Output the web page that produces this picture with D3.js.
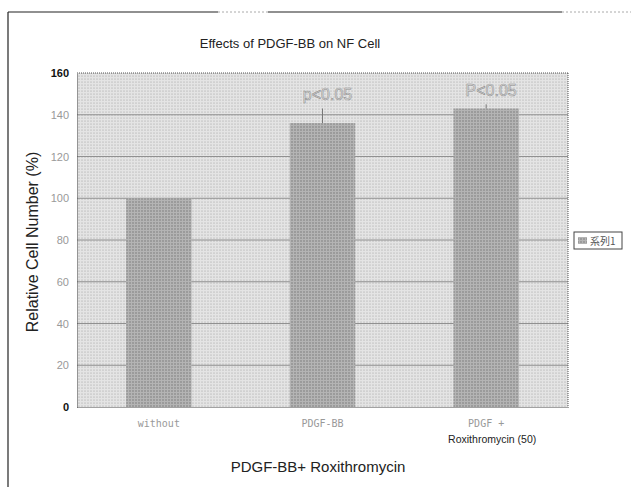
<!DOCTYPE html>
<html>
<head>
<meta charset="utf-8">
<script src="https://cdn.jsdelivr.net/npm/d3@7"></script>
<style>
  html, body { margin: 0; padding: 0; background: #fff; }
  svg { display: block; }
</style>
</head>
<body>
<svg id="chart" width="631" height="487"></svg>
<script>
// Relative cell number for each treatment group
const categories = ["without", "PDGF-BB", "PDGF +|Roxithromycin (50)"];
const values = [100, 136, 143];
const errors = [0, 7, 2];
const notes = ["", "p<0.05", "P<0.05"];
const yTicks = [0, 20, 40, 60, 80, 100, 120, 140, 160];
const seriesName = "系列1";

const svg = d3.select("#chart");
const margin = { left: 77, right: 63, top: 73, bottom: 80 };
const W = 631, H = 487;
const plotL = margin.left, plotR = W - margin.right;
const plotT = margin.top, plotB = H - margin.bottom;

const x = d3.scaleBand().domain(categories).range([plotL, plotR])
  .paddingInner(0.6).paddingOuter(0.3);
const y = d3.scaleLinear().domain([0, 160]).range([plotB, plotT]);

// halftone-like dot patterns
const defs = svg.append("defs");
function dots(id, bg, fg, r) {
  const p = defs.append("pattern").attr("id", id)
    .attr("width", 3).attr("height", 3).attr("patternUnits", "userSpaceOnUse");
  p.append("rect").attr("width", 3).attr("height", 3).attr("fill", bg);
  p.append("circle").attr("cx", 1).attr("cy", 1).attr("r", r).attr("fill", fg);
}
dots("plotTex", "#e4e4e4", "#9a9a9a", 0.55);
dots("barTex", "#b4b4b4", "#6e6e6e", 0.7);

// outer frame
const frame = svg.append("g").attr("stroke", "#222").attr("stroke-width", 1.2);
frame.append("line").attr("x1", 8).attr("x2", 8).attr("y1", 12).attr("y2", H);
frame.append("line").attr("x1", 8).attr("x2", 218).attr("y1", 12).attr("y2", 12);
frame.append("line").attr("x1", 268).attr("x2", 562).attr("y1", 12).attr("y2", 12);
svg.append("line").attr("x1", 218).attr("x2", 268).attr("y1", 12).attr("y2", 12)
  .attr("stroke", "#aaa").attr("stroke-dasharray", "2,2");
svg.append("line").attr("x1", 562).attr("x2", 631).attr("y1", 12).attr("y2", 12)
  .attr("stroke", "#aaa").attr("stroke-dasharray", "2,2");

// title
svg.append("text").attr("x", 290).attr("y", 48).attr("text-anchor", "middle")
  .attr("font-family", "Liberation Sans, Arial, sans-serif").attr("font-size", 13)
  .attr("fill", "#222").text("Effects of PDGF-BB on NF Cell");

// plot background
svg.append("rect").attr("x", plotL).attr("y", plotT)
  .attr("width", plotR - plotL).attr("height", plotB - plotT)
  .attr("fill", "url(#plotTex)");

// gridlines
svg.append("g").selectAll("line").data(yTicks.filter(d => d > 0 && d < 160)).join("line")
  .attr("x1", plotL).attr("x2", plotR)
  .attr("y1", d => y(d)).attr("y2", d => y(d))
  .attr("stroke", "#909090").attr("stroke-width", 1);

// plot border
svg.append("line").attr("x1", plotL).attr("x2", plotR).attr("y1", plotT).attr("y2", plotT)
  .attr("stroke", "#555").attr("stroke-dasharray", "1,1");
svg.append("line").attr("x1", plotR).attr("x2", plotR).attr("y1", plotT).attr("y2", plotB)
  .attr("stroke", "#555").attr("stroke-dasharray", "1,1");

// bars
svg.append("g").selectAll("rect").data(categories).join("rect")
  .attr("x", d => x(d)).attr("width", x.bandwidth())
  .attr("y", (d, i) => y(values[i])).attr("height", (d, i) => y(0) - y(values[i]))
  .attr("fill", "url(#barTex)");

// error ticks
const withErr = categories.map((c, i) => ({ c, v: values[i], e: errors[i] })).filter(d => d.e > 0);
svg.append("g").selectAll("line").data(withErr).join("line")
  .attr("x1", d => x(d.c) + x.bandwidth() / 2).attr("x2", d => x(d.c) + x.bandwidth() / 2)
  .attr("y1", d => y(d.v)).attr("y2", d => y(d.v + d.e))
  .attr("stroke", "#777").attr("stroke-width", 1);

// significance notes
svg.append("g").selectAll("text").data(categories).join("text")
  .attr("x", d => x(d) + x.bandwidth() / 2 + 5)
  .attr("y", (d, i) => y(values[i] + errors[i]) - 8)
  .attr("text-anchor", "middle")
  .attr("font-family", "Liberation Sans, Arial, sans-serif").attr("font-size", 16)
  .attr("fill", "#dcdcdc").attr("stroke", "#8c8c8c").attr("stroke-width", 0.5)
  .text((d, i) => notes[i]);

// y axis
const yAxis = svg.append("g").attr("transform", `translate(${plotL},0)`)
  .call(d3.axisLeft(y).tickValues(yTicks).tickSize(0).tickPadding(8));
yAxis.select(".domain").attr("stroke", "#444").attr("stroke-dasharray", "1,1");
yAxis.selectAll("text")
  .attr("font-family", "Liberation Sans, Arial, sans-serif").attr("font-size", 11)
  .attr("fill", d => (d === 0 || d === 160) ? "#111" : "#999")
  .attr("font-weight", d => (d === 0 || d === 160) ? "bold" : "normal");

// x axis
const xAxis = svg.append("g").attr("transform", `translate(0,${plotB})`)
  .call(d3.axisBottom(x).tickSize(0).tickPadding(13));
xAxis.select(".domain").attr("stroke", "#444").attr("stroke-dasharray", "1,1");
xAxis.selectAll(".tick text").each(function (d) {
  const parts = d.split("|");
  const t = d3.select(this).text(null);
  parts.forEach((p, k) => {
    t.append("tspan").attr("x", k === 0 ? 0 : 6).attr("dy", k === 0 ? "0.71em" : "1.5em")
      .attr("fill", k === 0 ? "#999" : "#222")
      .attr("font-family", k === 0 ? "DejaVu Sans Mono, monospace" : "Liberation Sans, Arial, sans-serif")
      .attr("font-size", k === 0 ? 10 : 10.5)
      .text(p);
  });
});

// axis titles
svg.append("text").attr("transform", `translate(38,${(plotT + plotB) / 2 + 2}) rotate(-90)`)
  .attr("text-anchor", "middle")
  .attr("font-family", "Liberation Sans, Arial, sans-serif").attr("font-size", 16)
  .attr("fill", "#222").text("Relative Cell Number (%)");
svg.append("text").attr("x", 318).attr("y", 472).attr("text-anchor", "middle")
  .attr("font-family", "Liberation Sans, Arial, sans-serif").attr("font-size", 15)
  .attr("fill", "#222").text("PDGF-BB+ Roxithromycin");

// legend
const lg = svg.append("g").attr("transform", "translate(574,232)");
lg.append("rect").attr("width", 48).attr("height", 17)
  .attr("fill", "#fff").attr("stroke", "#444").attr("stroke-width", 1);
lg.append("rect").attr("x", 4).attr("y", 5).attr("width", 9).attr("height", 7)
  .attr("fill", "url(#barTex)");
lg.append("text").attr("x", 16).attr("y", 12.5)
  .attr("font-family", "Noto Sans CJK JP, sans-serif").attr("font-size", 10)
  .attr("fill", "#555").text(seriesName);
</script>
</body>
</html>
